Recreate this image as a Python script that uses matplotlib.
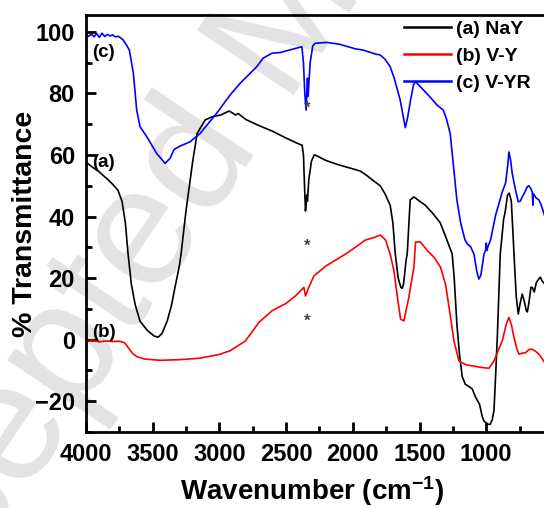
import matplotlib
matplotlib.use("Agg")
import matplotlib.pyplot as plt
from matplotlib.ticker import MultipleLocator

plt.rcParams['font.family'] = ['Liberation Sans', 'DejaVu Sans']
plt.rcParams['font.weight'] = 'bold'
plt.rcParams['mathtext.fontset'] = 'custom'
plt.rcParams['mathtext.rm'] = 'Liberation Sans:bold'
plt.rcParams['mathtext.default'] = 'rm'

# (a) NaY
nay_x = [4000, 3950, 3900, 3857, 3840, 3800, 3760, 3730, 3705, 3685, 3660, 3632, 3595, 3540,
         3490, 3460, 3430, 3392, 3360, 3333, 3300, 3287, 3250, 3200, 3167, 3107, 3050, 2990,
         2927, 2900, 2880, 2860, 2845, 2800, 2700, 2605, 2500, 2400, 2380, 2370, 2362, 2355,
         2350, 2345, 2340, 2330, 2310, 2290, 2282, 2250, 2200, 2105, 2000, 1945, 1900, 1850,
         1795, 1760, 1720, 1700, 1682, 1660, 1640, 1630, 1620, 1600, 1592, 1570, 1542, 1500,
         1457, 1400, 1345, 1300, 1255, 1240, 1220, 1200, 1180, 1157, 1130, 1105, 1080, 1050,
         1030, 1017, 990, 970, 955, 942, 930, 917, 895, 870, 857, 840, 827, 812, 800, 792,
         775, 760, 745, 730, 715, 700, 692, 680, 665, 655, 640, 625, 610, 595, 580, 560]
nay_y = [57.7, 56.0, 54.5, 52.8, 52.2, 50.5, 48.5, 45.0, 38.0, 28.0, 18.0, 11.5, 6.0, 3.0,
         1.2, 0.8, 2.0, 6.0, 11.0, 17.0, 24.0, 28.0, 42.0, 58.0, 67.0, 71.4, 72.5, 73.0,
         74.3, 73.6, 73.0, 73.5, 73.0, 71.5, 69.5, 67.8, 65.5, 63.5, 63.2, 60.0, 50.0, 41.8,
         44.0, 47.0, 45.0, 52.0, 58.0, 60.0, 60.0, 59.3, 58.2, 56.8, 55.5, 54.8, 53.5, 51.8,
         50.0, 47.5, 43.7, 38.0, 28.0, 20.0, 17.0, 16.7, 18.0, 26.0, 28.0, 45.4, 46.4, 45.0,
         43.7, 41.0, 38.0, 33.0, 27.8, 20.0, 5.0, -5.0, -12.0, -14.5, -15.2, -16.0, -18.7, -21.0,
         -25.0, -26.4, -27.5, -27.5, -26.0, -23.0, -12.0, 0.8, 27.8, 39.0, 41.8, 47.0, 47.6, 45.0, 35.0, 27.8,
         14.0, 8.3, 12.0, 14.8, 12.5, 9.5, 9.0, 12.0, 17.0, 17.0, 15.5, 18.5, 19.5, 20.3, 19.0, 18.0]

# (b) V-Y
vy_x = [4000, 3950, 3900, 3850, 3800, 3750, 3710, 3685, 3650, 3620, 3560, 3445, 3300, 3145,
        3000, 2920, 2807, 2702, 2605, 2500, 2430, 2367, 2355, 2330, 2292, 2200, 2055, 1975,
        1905, 1840, 1793, 1755, 1720, 1692, 1660, 1642, 1617, 1580, 1542, 1530, 1495, 1442,
        1392, 1343, 1305, 1270, 1242, 1205, 1150, 1105, 1040, 980, 942, 910, 880, 850, 830,
        812, 792, 770, 755, 730, 705, 680, 655, 630, 605, 560]
vy_y = [-0.6, -0.3, -0.7, -0.4, -0.6, -0.5, -1.0, -2.5, -4.5, -5.5, -6.3, -6.7, -6.5, -6.0,
        -4.8, -3.6, -0.5, 5.7, 9.4, 11.8, 14.2, 17.0, 14.2, 17.0, 20.7, 24.0, 27.8, 30.2,
        32.4, 33.2, 34.0, 32.4, 27.8, 22.4, 12.0, 6.7, 6.1, 13.8, 23.6, 31.7, 31.8, 29.0,
        26.8, 23.6, 18.0, 8.0, -0.4, -6.9, -8.2, -8.5, -9.0, -9.3, -6.9, -3.5, -0.4, 5.0, 7.2,
        5.0, 0.7, -3.0, -4.7, -4.4, -4.2, -3.2, -3.1, -3.8, -4.7, -7.5]

# (c) V-YR
vyr_x = [4000, 3980, 3960, 3940, 3920, 3900, 3880, 3860, 3840, 3820, 3800, 3780, 3760, 3745,
         3722, 3700, 3675, 3645, 3620, 3595, 3545, 3470, 3407, 3370, 3340, 3295, 3220, 3145,
         3020, 2920, 2845, 2720, 2672, 2605, 2545, 2467, 2382, 2370, 2360, 2350, 2345, 2340,
         2335, 2320, 2300, 2282, 2195, 2100, 1980, 1922, 1830, 1795, 1760, 1720, 1690, 1645,
         1607, 1590, 1567, 1545, 1532, 1500, 1470, 1420, 1370, 1322, 1300, 1270, 1220, 1192,
         1160, 1140, 1117, 1092, 1070, 1055, 1040, 1017, 1005, 1000, 995, 992, 967, 930, 880,
         855, 840, 830, 818, 805, 780, 760, 745, 730, 710, 692, 680, 665, 655, 650, 648, 640,
         625, 605, 590, 575, 560]
vyr_y = [99.0, 98.6, 99.3, 98.4, 99.5, 98.2, 99.6, 98.5, 99.2, 98.7, 99.0, 98.4, 98.6, 98.2,
         97.4, 96.0, 94.1, 86.6, 74.6, 69.2, 66.0, 60.5, 57.3, 58.9, 61.8, 62.9, 64.3, 67.0,
         73.6, 79.5, 83.3, 88.7, 91.5, 93.1, 93.3, 94.2, 95.2, 90.0, 80.0, 74.6, 80.0, 85.0,
         79.0, 90.0, 95.5, 96.3, 96.6, 96.0, 94.5, 94.1, 92.8, 92.5, 91.2, 88.7, 85.0, 77.9,
         68.9, 72.0, 77.9, 82.8, 83.8, 82.5, 81.1, 78.8, 76.3, 74.6, 72.0, 67.0, 45.4, 38.0,
         32.5, 31.0, 30.2, 27.8, 22.0, 19.7, 21.0, 27.8, 29.0, 31.4, 29.0, 29.6, 32.5, 40.4, 48.0,
         50.9, 56.2, 61.0, 58.5, 54.0, 48.5, 44.8, 45.0, 46.4, 48.0, 49.7, 50.0, 49.0, 48.0, 43.7, 47.5, 47.0,
         46.0, 45.4, 44.0, 42.0, 40.0]

series_labels = ['(a) NaY', '(b) V-Y', '(c) V-YR']
series_colors = ['black', '#ff0000', '#0000ff']
curve_tags = ['(a)', '(b)', '(c)']
tag_y = [57.7, 2.4, 93.3]
star_x = 2340
star_y = [75.2, 30.4, 6.1]

fig = plt.figure(figsize=(5.44, 5.08), dpi=100)
# the plot box runs off the right edge of the picture, as in the original crop
ax = fig.add_axes([86 / 544, 76 / 508, 458 / 544, 417 / 508])
ax.patch.set_alpha(0)

# faint watermark behind the plot
fig.text(0.50, 0.90, 'Accepted Manuscript', fontsize=122, fontweight='normal',
         color='#e3e3e3', rotation=56, rotation_mode='anchor',
         ha='center', va='center', zorder=-10)

for xs, ys, lab, col in zip([nay_x, vy_x, vyr_x], [nay_y, vy_y, vyr_y], series_labels, series_colors):
    ax.plot(xs, ys, color=col, lw=1.2, label=lab)

for tag, ty in zip(curve_tags, tag_y):
    ax.text(3955, ty, tag, fontsize=13.5, fontweight='bold', ha='left', va='center')

for sy in star_y:
    ax.text(star_x, sy, '*', fontsize=12, color='#444444', ha='center', va='center')

ax.set_xlim(4000, 567)
ax.set_ylim(-30, 105.5)
ax.xaxis.set_major_locator(MultipleLocator(500))
ax.xaxis.set_minor_locator(MultipleLocator(250))
ax.yaxis.set_major_locator(MultipleLocator(20))
ax.yaxis.set_minor_locator(MultipleLocator(10))
ax.tick_params(which='both', direction='in', width=2, top=False, right=False)
ax.tick_params(which='major', length=7, labelsize=17, pad=8)
ax.tick_params(which='minor', length=4)
for lbl in ax.get_xticklabels() + ax.get_yticklabels():
    lbl.set_fontweight('bold')
for s in ax.spines.values():
    s.set_linewidth(2)
ax.spines['right'].set_visible(False)

ax.set_xlabel(r'Wavenumber (cm$^{-1}$)', fontsize=20, fontweight='bold')
ax.set_ylabel('% Transmittance', fontsize=20.5, fontweight='bold')
ax.xaxis.set_label_coords(0.493, -0.142)
ax.xaxis.label.set_va('center')
ax.yaxis.set_label_coords(-0.105, 0.5)

leg = ax.legend(loc='upper left', bbox_to_anchor=(404 / 544, 1 - 20 / 508),
                bbox_transform=fig.transFigure, frameon=False, fontsize=14,
                handlelength=2.4, handletextpad=0.3, labelspacing=0.5,
                borderpad=0, borderaxespad=0)
for line in leg.get_lines():
    line.set_linewidth(1.8)

fig.savefig('out.png', dpi=100)
